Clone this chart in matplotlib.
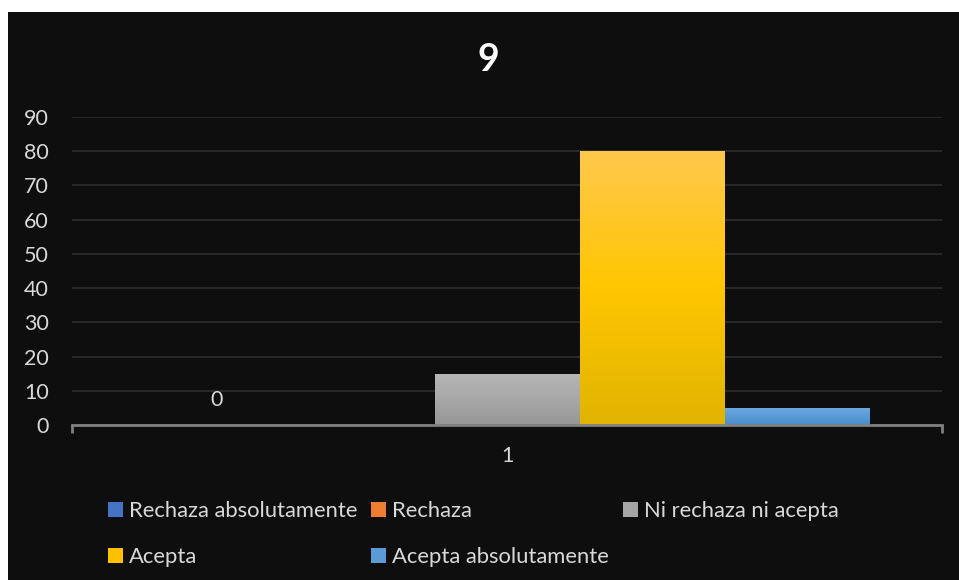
import matplotlib.pyplot as plt
import matplotlib.patches as mpatches
from matplotlib.colors import LinearSegmentedColormap
import numpy as np

plt.rcParams['font.family'] = ['Lato', 'DejaVu Sans']

titulo = "9"
categorias = ["1"]
series = ["Rechaza absolutamente", "Rechaza", "Ni rechaza ni acepta",
          "Acepta", "Acepta absolutamente"]
valores = [0, 0, 15, 80, 5]
etiquetas = {0: "0"}   # solo la primera serie lleva etiqueta
colores = ["#4472c4", "#ed7d31", "#a5a5a5", "#ffc000", "#5b9bd5"]
# degradado (arriba, medio, abajo) de cada serie
degradados = [
    ["#6a8fd6", "#4472c4", "#3a63ad"],
    ["#f39a5e", "#ed7d31", "#d46b24"],
    ["#b6b6b6", "#a8a8a8", "#979797"],
    ["#ffc84c", "#ffc600", "#e0b400"],
    ["#6faae2", "#5b9bd5", "#4a8bcd"],
]
fondo = "#0e0e0e"
texto = "#d9d9d9"

fig = plt.figure(figsize=(9.59, 5.80), dpi=100, facecolor="white")
# fondo oscuro del gráfico (deja franja blanca arriba e izquierda)
fig.patches.append(mpatches.Rectangle((8 / 959, 0), 1, (580 - 12) / 580,
                                      transform=fig.transFigure,
                                      facecolor=fondo, edgecolor="none", zorder=-5))

ax = fig.add_axes([72 / 959, (580 - 425) / 580, 870 / 959, (425 - 117) / 580])
ax.set_facecolor(fondo)
ax.set_zorder(2)

n = len(series)
ancho = 1 / (n + 1)
for i, (v, grad) in enumerate(zip(valores, degradados)):
    xc = 1 + (i - (n - 1) / 2) * ancho
    barra = ax.bar(xc, v, width=ancho, color=colores[i], zorder=2)[0]
    if v > 0:
        cmap = LinearSegmentedColormap.from_list("g%d" % i, grad)
        img = ax.imshow(np.linspace(0, 1, 256).reshape(-1, 1), cmap=cmap,
                        extent=[xc - ancho / 2, xc + ancho / 2, 0, v],
                        aspect="auto", origin="upper", zorder=3)
        img.set_clip_path(barra)
    if i in etiquetas:
        ax.annotate(etiquetas[i], (xc, v), xytext=(0, 18), textcoords="offset points",
                    ha="center", va="center", color=texto, fontsize=15.5)

ax.set_xlim(0.5, 1.5)
ax.set_ylim(0, 90)
ax.set_yticks(range(0, 91, 10))
ax.yaxis.grid(True, color="#2b2b2b", linewidth=1.3, zorder=0)
ax.set_axisbelow(True)
ax.tick_params(axis="y", length=0, pad=16.5, labelsize=15.5, labelcolor=texto)

# eje de categorías con marcas en los bordes
ax.set_xticks([0.5, 1.5])
ax.set_xticks([1], minor=True)
ax.set_xticklabels(["", ""])
ax.set_xticklabels(categorias, minor=True)
ax.tick_params(axis="x", which="major", length=6, width=2, color="#808080", direction="out")
ax.tick_params(axis="x", which="minor", length=0, pad=15, labelsize=15.5, labelcolor=texto)

for s in ["top", "right", "left"]:
    ax.spines[s].set_visible(False)
ax.spines["bottom"].set_color("#808080")
ax.spines["bottom"].set_linewidth(2)
ax.spines["bottom"].set_zorder(5)

fig.text(488 / 959, 1 - 60 / 580, titulo, ha="center", va="center",
         color="white", fontsize=27, fontweight="bold")

handles = [mpatches.Patch(facecolor=c, edgecolor="none") for c in colores]
orden = [0, 3, 1, 4, 2]
leg = fig.legend([handles[k] for k in orden], [series[k] for k in orden],
                 ncol=3, loc="upper left", bbox_to_anchor=(108 / 959, 1 - 501 / 580),
                 frameon=False, fontsize=15.8, labelcolor=texto,
                 handlelength=0.68, handleheight=0.68, handletextpad=0.26,
                 columnspacing=0.65, labelspacing=1.18, borderaxespad=0, borderpad=0)

fig.savefig("out.png", dpi=100, facecolor=fig.get_facecolor())
